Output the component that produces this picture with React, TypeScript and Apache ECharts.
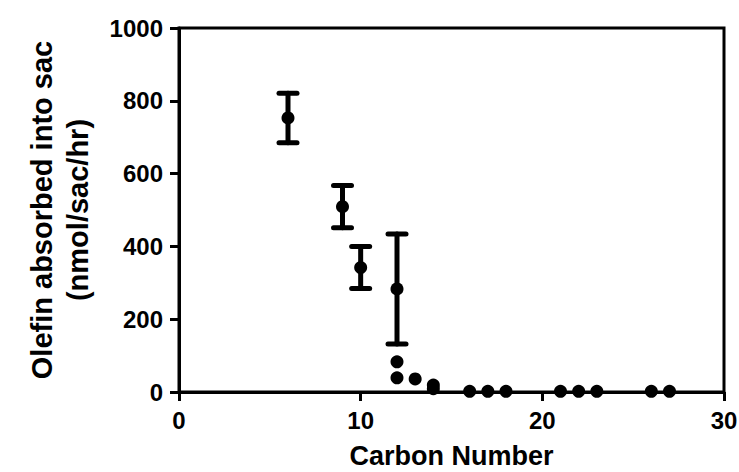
import React, { useEffect, useRef } from "react";
import * as echarts from "echarts";

const carbonNumber = [6, 9, 10, 12, 12, 12, 13, 14, 14, 16, 17, 18, 21, 22, 23, 26, 27];
const olefinMean = [753, 509, 342, 283, 83, 39, 36, 19, 9, 2, 2, 2, 2, 2, 2, 2, 2];
const olefinErr = [68, 58, 58, 151, 0, 0, 0, 0, 0, 0, 0, 0, 0, 0, 0, 0, 0];
const xTicks = [0, 10, 20, 30];
const yTicks = [0, 200, 400, 600, 800, 1000];

const FONT = "'Liberation Sans', Arial, sans-serif";

export default function App() {
  const ref = useRef<HTMLDivElement>(null);
  useEffect(() => {
    if (!ref.current) return;
    const chart = echarts.init(ref.current, undefined, { renderer: "svg" });
    const points = carbonNumber.map((c, i) => [c, olefinMean[i]]);
    const bars = carbonNumber
      .map((c, i) => [c, olefinMean[i] - olefinErr[i], olefinMean[i] + olefinErr[i]])
      .filter((_, i) => olefinErr[i] > 0);
    chart.setOption({
      animation: false,
      backgroundColor: "#fff",
      grid: {
        left: 179,
        right: 15,
        top: 28,
        bottom: 80,
        show: true,
        borderColor: "#000",
        borderWidth: 3,
        containLabel: false,
        outerBoundsMode: "none",
      },
      xAxis: {
        type: "value",
        min: xTicks[0],
        max: xTicks[xTicks.length - 1],
        interval: 10,
        name: "Carbon Number",
        nameLocation: "middle",
        nameGap: 50,
        nameTextStyle: {
          fontFamily: FONT,
          fontWeight: "bold",
          fontSize: 27,
          lineHeight: 27,
          color: "#000",
        },
        axisLine: { show: true, onZero: false, lineStyle: { color: "#000", width: 3 } },
        axisTick: { show: true, length: 9, lineStyle: { color: "#000", width: 3 } },
        axisLabel: {
          fontFamily: FONT,
          fontWeight: "bold",
          fontSize: 24,
          color: "#000",
          margin: 16,
          hideOverlap: false,
          formatter: (v: number) => String(v),
        },
        splitLine: { show: false },
      },
      yAxis: {
        type: "value",
        min: yTicks[0],
        max: yTicks[yTicks.length - 1],
        interval: 200,
        name: "Olefin absorbed into sac\n(nmol/sac/hr)",
        nameLocation: "middle",
        nameRotate: 90,
        nameGap: 83,
        nameTextStyle: {
          fontFamily: FONT,
          fontWeight: "bold",
          fontSize: 29,
          lineHeight: 36,
          color: "#000",
          align: "center",
        },
        axisLine: { show: true, onZero: false, lineStyle: { color: "#000", width: 3 } },
        axisTick: { show: true, length: 9, lineStyle: { color: "#000", width: 3 } },
        axisLabel: {
          fontFamily: FONT,
          fontWeight: "bold",
          fontSize: 24,
          color: "#000",
          margin: 16,
          formatter: (v: number) => String(v),
        },
        splitLine: { show: false },
      },
      series: [
        {
          type: "custom",
          data: bars,
          z: 3,
          renderItem: (params: any, api: any) => {
            const x = api.value(0);
            const lo = api.coord([x, api.value(1)]);
            const hi = api.coord([x, api.value(2)]);
            const hw = 9;
            const style = { stroke: "#000", lineWidth: 5, lineCap: "round" };
            return {
              type: "group",
              children: [
                { type: "line", shape: { x1: lo[0], y1: lo[1], x2: hi[0], y2: hi[1] }, style },
                { type: "line", shape: { x1: hi[0] - hw, y1: hi[1], x2: hi[0] + hw, y2: hi[1] }, style },
                { type: "line", shape: { x1: lo[0] - hw, y1: lo[1], x2: lo[0] + hw, y2: lo[1] }, style },
              ],
            };
          },
        },
        {
          type: "scatter",
          data: points,
          symbol: "circle",
          symbolSize: 13,
          z: 4,
          itemStyle: { color: "#000", opacity: 1 },
        },
      ],
    });
    return () => chart.dispose();
  }, []);
  return (
    <div
      ref={ref}
      style={{ position: "absolute", left: 0, top: 0, width: 739, height: 472 }}
    />
  );
}
